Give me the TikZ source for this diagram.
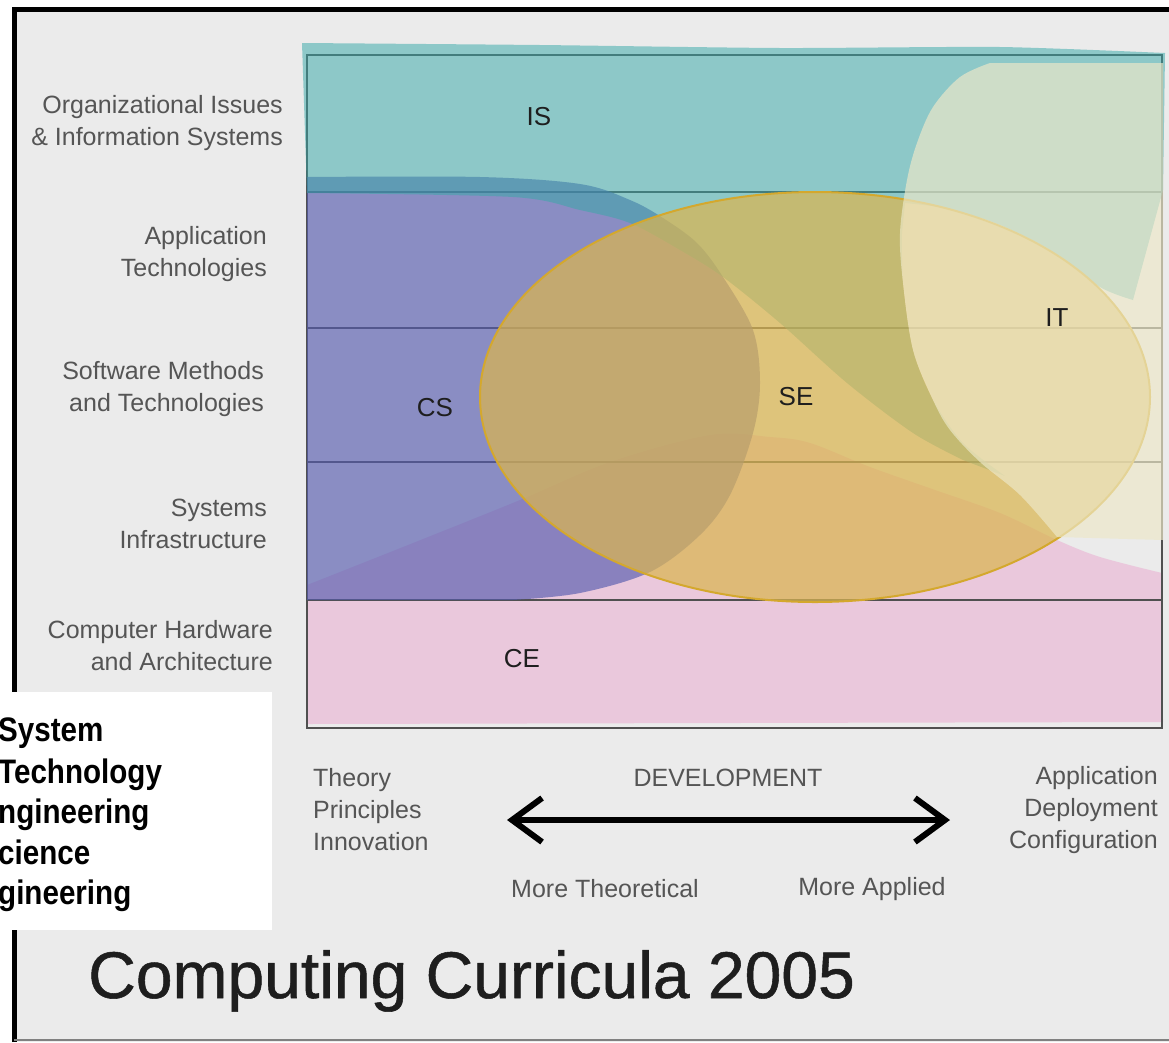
\documentclass[tikz,border=0pt]{standalone}
\usepackage{fontspec}
\setmainfont{Liberation Sans}
\newfontfamily\legendfont[FakeStretch=0.87]{Liberation Sans}
\newfontfamily\titlefont[FakeBold=0.8]{Liberation Sans}
\usetikzlibrary{arrows.meta}
\definecolor{bgc}{RGB}{235,235,235}
\definecolor{cec}{RGB}{234,200,220}
\definecolor{csc}{RGB}{86,92,175}
\definecolor{isc}{RGB}{56,168,168}
\definecolor{sec}{RGB}{218,181,81}
\definecolor{seline}{RGB}{212,168,45}
\definecolor{itc}{RGB}{237,232,200}
\definecolor{gridc}{RGB}{80,80,80}
\definecolor{lblc}{RGB}{85,85,85}
\definecolor{darkt}{RGB}{30,30,30}
\tikzset{
  rowlabel/.style={anchor=east,align=right,inner sep=0pt,text=lblc,font=\fontsize{25}{32}\selectfont},
  arealabel/.style={inner sep=0pt,text=darkt,font=\fontsize{26}{30}\selectfont},
  axislabel/.style={inner sep=0pt,text=lblc,font=\fontsize{25}{32}\selectfont},
  legendtext/.style={anchor=base west,inner sep=0pt,text=black,font=\legendfont\bfseries\fontsize{34}{40}\selectfont},
  gridline/.style={draw=gridc,line width=1.5pt},
}
\begin{document}
\begin{tikzpicture}[x=1pt,y=-1pt]
\useasboundingbox (0,0) rectangle (1169,1042);
\fill[white] (0,0) rectangle (1169,1042);
\fill[bgc] (14,9) rectangle (1169,1042);
% outer frame
\draw[black,line width=5pt] (14,1042) -- (14,9) -- (1169,9);
\draw[gray,line width=1.5pt] (14,1040) -- (1169,1040);

% CE region
\fill[cec] (307,724) -- plot[smooth,tension=.55] coordinates {(307,585) (413,543) (520,500) (610,462) (710,435) (770,437) (810,443) (870,467) (935,490) (1000,513) (1057,540) (1100,557) (1162,573)} -- (1163,722) -- cycle;

% grid
\draw[gridline] (307,55) rectangle (1162,728);
\foreach \yy in {192,328,462,600} \draw[gridline] (307,\yy) -- (1162,\yy);

% CS region
\fill[csc,fill opacity=.65] (307,600) -- plot[smooth,tension=.55] coordinates {(307,177) (480,177) (580,184) (630,200) (663,218) (697,243) (723,277) (753,330) (760,383) (753,433) (730,495) (700,535) (650,572) (580,593) (513,600)} -- cycle;

% IS region
\fill[isc,fill opacity=.52] plot[smooth,tension=.4] coordinates {(302,43) (540,45) (780,48) (1000,47) (1165,53)} -- (1163,190)
  -- plot[smooth,tension=.5] coordinates {(1133,300) (1100,287) (1050,250) (1000,225) (950,209) (905,203)}
  -- plot[smooth,tension=.5] coordinates {(902,233) (903,283) (913,350) (933,400) (963,443) (1005,476)}
  -- plot[smooth,tension=.5] coordinates {(963,460) (913,433) (847,383) (780,323) (723,277) (680,250) (630,223) (580,210) (513,197) (307,193)}
  -- cycle;

% SE ellipse
\path[fill=sec,fill opacity=.72,draw=seline,line width=2pt] (815,397) ellipse [x radius=335pt, y radius=205pt];

% IT region
\fill[itc,fill opacity=.68] (1163,63) -- (1163,540) -- plot[smooth,tension=.55] coordinates {(1057,537) (1020,495) (980,462) (950,430) (933,400) (913,350) (903,283) (900,233) (907,180) (917,143) (933,107) (960,77) (990,63)} -- cycle;

% area labels
\node[arealabel] (IS) at (539,117) {IS};
\node[arealabel] (CS) at (435,408) {CS};
\node[arealabel] (SE) at (796,397) {SE};
\node[arealabel] (IT) at (1057,318) {IT};
\node[arealabel] (CE) at (522,659) {CE};

% row labels
\node[rowlabel] (r1) at (283,123) {Organizational Issues\\\& Information Systems};
\node[rowlabel] (r2) at (267,254) {Application\\Technologies};
\node[rowlabel] (r3) at (264,389) {Software Methods\\and Technologies};
\node[rowlabel] (r4) at (267,524) {Systems\\Infrastructure};
\node[rowlabel] (r5) at (273,646) {Computer Hardware\\and Architecture};

% axis
\node[axislabel,anchor=west,align=left] (left) at (313,810) {Theory\\Principles\\Innovation};
\node[axislabel,anchor=east,align=right] (right) at (1158,810) {Application\\Deployment\\Configuration};
\node[axislabel] (dev) at (728,778) {DEVELOPMENT};
\coordinate (al) at (507,820);
\coordinate (ar) at (950,820);
\draw[black,line width=6pt,line cap=round,{Straight Barb[length=30pt,width=44pt]}-{Straight Barb[length=30pt,width=44pt]}] (al) -- (ar);
\node[axislabel] (mt) at (605,889) {More Theoretical};
\node[axislabel] (ma) at (872,889) {More Applied};

% title
\node[anchor=base west,inner sep=0pt,text=darkt,font=\titlefont\fontsize{66}{70}\selectfont] (title) at (88,998) {Computing Curricula 2005};

% legend box
\fill[white] (0,692) rectangle (272,930);
\node[legendtext] (l1) at (-2,741) {System};
\node[legendtext] (l2) at (-2,783) {Technology};
\node[legendtext] (l3) at (-2,823) {ngineering};
\node[legendtext] (l4) at (-2,864) {cience};
\node[legendtext] (l5) at (-2,904) {gineering};
\end{tikzpicture}
\end{document}
